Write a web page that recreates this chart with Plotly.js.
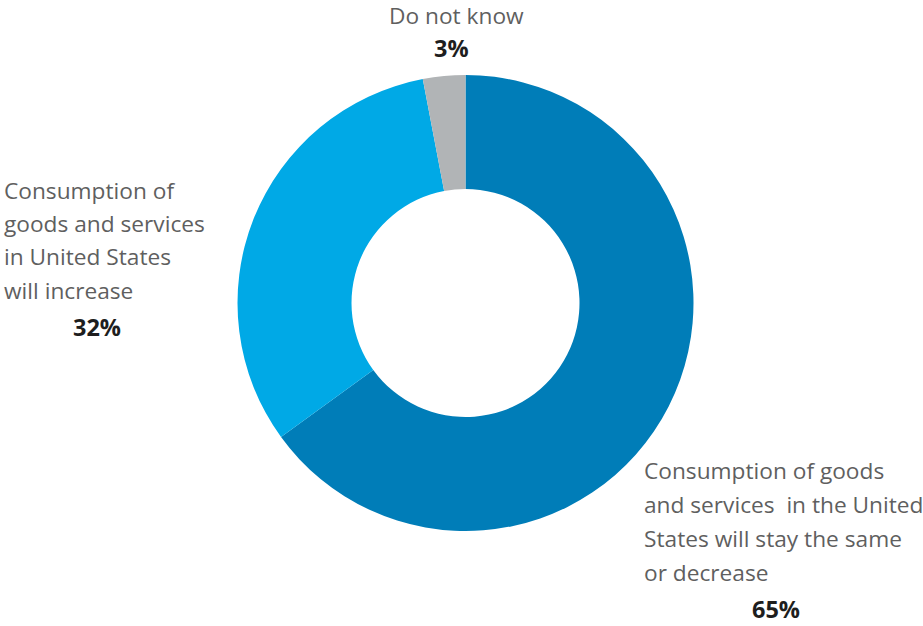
<!DOCTYPE html>
<html>
<head>
<meta charset="utf-8">
<script src="https://cdn.plot.ly/plotly-3.0.1.min.js"></script>
<style>html,body{margin:0;padding:0;background:#fff;}#chart{width:923px;height:626px;}</style>
</head>
<body>
<div id="chart"></div>
<script>
// Data
const categories = [
  "Consumption of goods and services in the United States will stay the same or decrease",
  "Consumption of goods and services in United States will increase",
  "Do not know"
];
const values = [65, 32, 3];
const percentLabels = ["65%", "32%", "3%"];
const labelLines = [
  ["Consumption of goods", "and services  in the United", "States will stay the same", "or decrease"],
  ["Consumption of", "goods and services", "in United States", "will increase"],
  ["Do not know"]
];

const W = 923, H = 626;
const colors = ["#007DB8", "#00A9E6", "#B1B4B6"];

const trace = {
  type: "pie",
  labels: categories,
  values: values,
  sort: false,
  direction: "clockwise",
  rotation: 0,
  hole: 0.5,
  textinfo: "none",
  hoverinfo: "label+percent",
  marker: { colors: colors, line: { width: 0 } },
  domain: { x: [237.5 / W, 693.5 / W], y: [95 / H, 551 / H] },
  showlegend: false
};

// label layout (pixel positions)
const textFont = { family: "Open Sans, sans-serif", size: 22.7, color: "#5F5F5F" };
const pctFont = { family: "Open Sans, sans-serif", size: 23.5, color: "#1E1E1E", weight: 700 };
const blocks = [
  { x: 642, y0: 471, dy: 33.7, pctX: 776, pctY: 609, anchor: "left" },
  { x: 2, y0: 190, dy: 33.5, pctX: 97, pctY: 327, anchor: "left" },
  { x: 456, y0: 15, dy: 33.5, pctX: 451, pctY: 48, anchor: "center" }
];

const annotations = [];
blocks.forEach((b, i) => {
  labelLines[i].forEach((line, j) => {
    annotations.push({
      xref: "paper", yref: "paper",
      x: b.x / W, y: 1 - (b.y0 + j * b.dy) / H,
      xanchor: b.anchor, yanchor: "middle",
      text: line, showarrow: false, font: textFont
    });
  });
  annotations.push({
    xref: "paper", yref: "paper",
    x: b.pctX / W, y: 1 - b.pctY / H,
    xanchor: "center", yanchor: "middle",
    text: "<b>" + percentLabels[i] + "</b>", showarrow: false, font: pctFont
  });
});

const layout = {
  width: W, height: H,
  margin: { l: 0, r: 0, t: 0, b: 0 },
  paper_bgcolor: "#ffffff",
  plot_bgcolor: "#ffffff",
  showlegend: false,
  annotations: annotations
};

Plotly.newPlot("chart", [trace], layout, { displayModeBar: false, staticPlot: true });
</script>
</body>
</html>
